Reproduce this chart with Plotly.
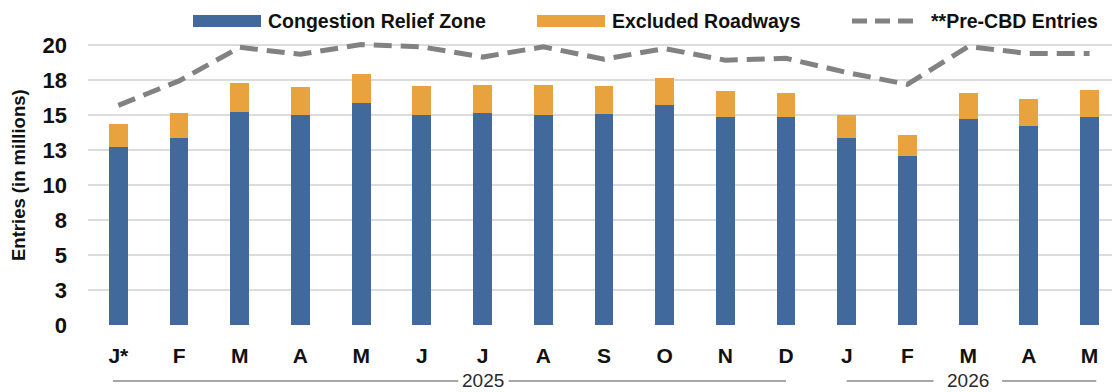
import plotly.graph_objects as go

# ---- data (values in millions) ----
months = ["J*", "F", "M", "A", "M", "J", "J", "A", "S", "O", "N", "D",
          "J", "F", "M", "A", "M"]
crz = [12.71, 13.36, 15.26, 15.02, 15.86, 15.02, 15.12, 14.98, 15.07, 15.71,
       14.88, 14.86, 13.36, 12.05, 14.71, 14.21, 14.88]
excluded = [1.67, 1.76, 2.06, 1.98, 2.09, 2.05, 2.00, 2.14, 1.98, 1.98,
            1.82, 1.72, 1.64, 1.50, 1.90, 1.93, 1.92]
pre_cbd = [15.70, 17.45, 19.85, 19.35, 20.05, 19.88, 19.15, 19.88, 19.00, 19.76,
           18.93, 19.06, 18.05, 17.20, 19.90, 19.40, 19.40]
y_tickvals = [0, 2.5, 5, 7.5, 10, 12.5, 15, 17.5, 20]
y_ticktext = ["0", "3", "5", "8", "10", "13", "15", "18", "20"]
series_names = ["Congestion Relief Zone", "Excluded Roadways", "**Pre-CBD Entries"]
years = ["2025", "2026"]

BLUE = "#41699B"
ORANGE = "#E8A33E"
GRAY = "#828282"
FONT = "Liberation Sans"

x = list(range(len(months)))

fig = go.Figure()
fig.add_trace(go.Bar(x=x, y=crz, name=series_names[0], marker_color=BLUE,
                     marker_line_width=0, width=0.31, showlegend=False))
fig.add_trace(go.Bar(x=x, y=excluded, name=series_names[1], marker_color=ORANGE,
                     marker_line_width=0, width=0.31, showlegend=False))
fig.add_trace(go.Scatter(x=x, y=pre_cbd, name=series_names[2], mode="lines",
                         line=dict(color=GRAY, width=5, dash="18px,9px"),
                         showlegend=False))

fig.update_layout(
    width=1112, height=392,
    margin=dict(l=88, r=0, t=41, b=67),
    barmode="stack",
    plot_bgcolor="white", paper_bgcolor="white",
    font=dict(family=FONT, color="#111111"),
    xaxis=dict(range=[-0.5, 16.37], tickvals=x, ticktext=months,
               showgrid=False, zeroline=False, showline=False,
               tickfont=dict(size=21, weight="bold", color="#111111"),
               ticks="", ticklabelstandoff=16),
    yaxis=dict(range=[0, 20.3], tickvals=y_tickvals, ticktext=y_ticktext,
               showgrid=True, gridcolor="#DCDCDC", gridwidth=2,
               zeroline=False, showline=False, ticks="",
               tickfont=dict(size=22, weight="bold", color="#111111"),
               ticklabelstandoff=20),
)

def px_x(px):
    return (px - 88) / 1024

def px_y(py):
    return (325 - py) / 284

# y-axis title
fig.add_annotation(text="Entries (in millions)", xref="paper", yref="paper",
                   x=px_x(18), y=px_y(175), textangle=-90, showarrow=False,
                   xanchor="center", yanchor="middle",
                   font=dict(size=18.5, weight="bold", color="#111111", family=FONT))

# custom legend
leg_y = px_y(21)
fig.add_shape(type="rect", xref="paper", yref="paper",
              x0=px_x(193), x1=px_x(261), y0=px_y(27), y1=px_y(15),
              fillcolor=BLUE, line_width=0)
fig.add_annotation(text=series_names[0], xref="paper", yref="paper",
                   x=px_x(266), y=leg_y, xanchor="left", yanchor="middle",
                   showarrow=False,
                   font=dict(size=19.5, weight="bold", color="#111111", family=FONT))
fig.add_shape(type="rect", xref="paper", yref="paper",
              x0=px_x(537), x1=px_x(605), y0=px_y(27), y1=px_y(15),
              fillcolor=ORANGE, line_width=0)
fig.add_annotation(text=series_names[1], xref="paper", yref="paper",
                   x=px_x(610), y=leg_y, xanchor="left", yanchor="middle",
                   showarrow=False,
                   font=dict(size=19.5, weight="bold", color="#111111", family=FONT))
fig.add_shape(type="line", xref="paper", yref="paper",
              x0=px_x(852), x1=px_x(915), y0=leg_y, y1=leg_y,
              line=dict(color=GRAY, width=5, dash="15px,8px"))
fig.add_annotation(text=series_names[2], xref="paper", yref="paper",
                   x=px_x(929), y=leg_y, xanchor="left", yanchor="middle",
                   showarrow=False,
                   font=dict(size=19.5, weight="bold", color="#111111", family=FONT))

# year group labels with rules
yr_y = px_y(381)
for (a, b) in [(-0.09, 5.6), (6.43, 11.0), (12.0, 13.43), (14.56, 16.11)]:
    fig.add_shape(type="line", xref="x", yref="paper", x0=a, x1=b,
                  y0=yr_y, y1=yr_y, line=dict(color="#8A8A8A", width=1.5))
for label, xc in zip(years, [6.01, 13.99]):
    fig.add_annotation(text=label, xref="x", yref="paper", x=xc, y=px_y(380),
                       xanchor="center", yanchor="middle", showarrow=False,
                       borderpad=0,
                       font=dict(size=19, color="#2A2A2A", family=FONT))

fig.write_html("out.html")
